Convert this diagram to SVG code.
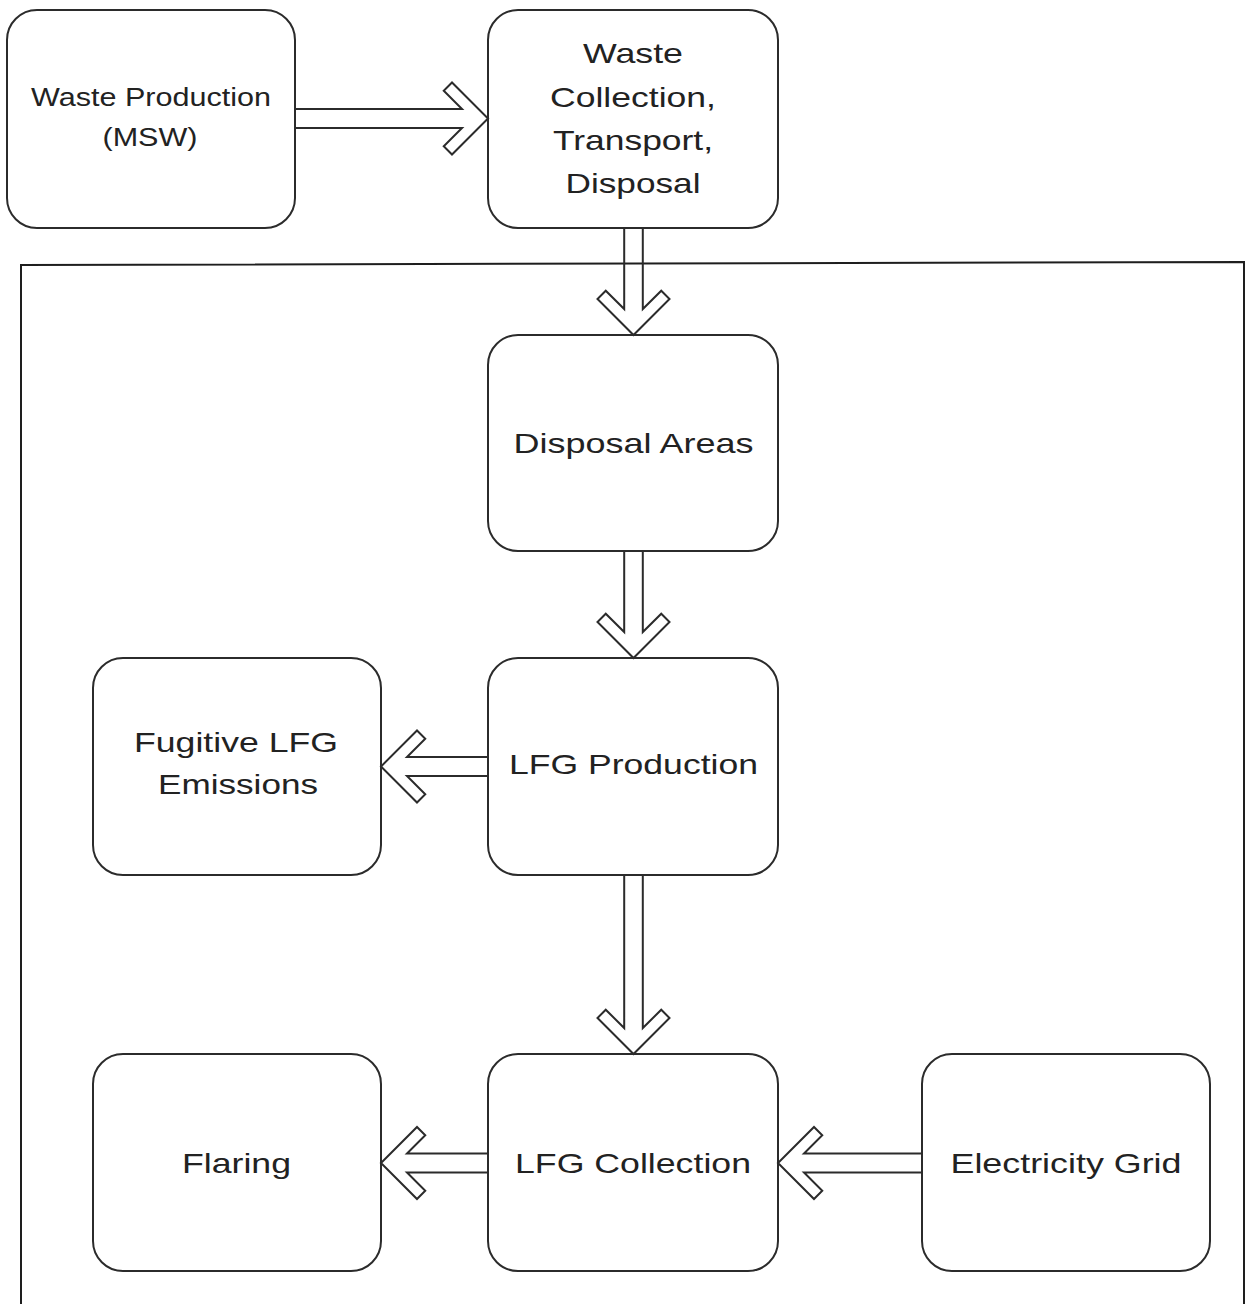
<svg xmlns="http://www.w3.org/2000/svg" width="1245" height="1304" viewBox="0 0 1245 1304">
<style>
.box{fill:#fff;stroke:#2b2b2b;stroke-width:2}
.frame{fill:none;stroke:#1e1e1e;stroke-width:2}
.arr{fill:none;stroke:#2b2b2b;stroke-width:2;stroke-linejoin:miter}
text{font-family:"Liberation Sans",Arial,sans-serif;font-size:28px;fill:#222;text-anchor:middle}
.sm{font-size:26px}
</style>
<rect width="1245" height="1304" fill="#fff"/>
<path class="frame" d="M21,1304 V265 L1244,262 V1304"/>
<g id="n_waste_production">
<rect class="box" x="7" y="10" width="288" height="218" rx="30"/>
<text class="sm" x="151" y="106" textLength="240" lengthAdjust="spacingAndGlyphs">Waste Production</text>
<text class="sm" x="150" y="146" textLength="95" lengthAdjust="spacingAndGlyphs">(MSW)</text>
</g>
<g id="n_waste_collection">
<rect class="box" x="488" y="10" width="290" height="218" rx="30"/>
<text x="633" y="63" textLength="100" lengthAdjust="spacingAndGlyphs">Waste</text>
<text x="633" y="107" textLength="166" lengthAdjust="spacingAndGlyphs">Collection,</text>
<text x="633" y="150" textLength="160" lengthAdjust="spacingAndGlyphs">Transport,</text>
<text x="633" y="193" textLength="135" lengthAdjust="spacingAndGlyphs">Disposal</text>
</g>
<g id="n_disposal_areas">
<rect class="box" x="488" y="335" width="290" height="216" rx="30"/>
<text x="633.5" y="453" textLength="240" lengthAdjust="spacingAndGlyphs">Disposal Areas</text>
</g>
<g id="n_lfg_production">
<rect class="box" x="488" y="658" width="290" height="217" rx="30"/>
<text x="633.5" y="774" textLength="249" lengthAdjust="spacingAndGlyphs">LFG Production</text>
</g>
<g id="n_fugitive">
<rect class="box" x="93" y="658" width="288" height="217" rx="30"/>
<text x="236" y="752" textLength="204" lengthAdjust="spacingAndGlyphs">Fugitive LFG</text>
<text x="238" y="794" textLength="160" lengthAdjust="spacingAndGlyphs">Emissions</text>
</g>
<g id="n_lfg_collection">
<rect class="box" x="488" y="1054" width="290" height="217" rx="30"/>
<text x="633" y="1173" textLength="236" lengthAdjust="spacingAndGlyphs">LFG Collection</text>
</g>
<g id="n_flaring">
<rect class="box" x="93" y="1054" width="288" height="217" rx="30"/>
<text x="236.5" y="1173" textLength="109" lengthAdjust="spacingAndGlyphs">Flaring</text>
</g>
<g id="n_electricity_grid">
<rect class="box" x="922" y="1054" width="288" height="217" rx="30"/>
<text x="1066" y="1173" textLength="231" lengthAdjust="spacingAndGlyphs">Electricity Grid</text>
</g>
<g id="connectors">
<path class="arr" transform="translate(488,118.5)" d="M-193,-9.5 H-26 L-44.25,-27.75 L-36,-36 L0,0 L-36,36 L-44.25,27.75 L-26,9.5 H-193"/>
<path class="arr" transform="translate(633.5,335) rotate(90)" d="M-108,-9.3 H-26 L-44.25,-27.75 L-36,-36 L0,0 L-36,36 L-44.25,27.75 L-26,9.3 H-108"/>
<path class="arr" transform="translate(633.5,658) rotate(90)" d="M-107,-9.3 H-26 L-44.25,-27.75 L-36,-36 L0,0 L-36,36 L-44.25,27.75 L-26,9.3 H-107"/>
<path class="arr" transform="translate(381,766.5) rotate(180)" d="M-107,-9.5 H-26 L-44.25,-27.75 L-36,-36 L0,0 L-36,36 L-44.25,27.75 L-26,9.5 H-107"/>
<path class="arr" transform="translate(633.5,1054) rotate(90)" d="M-179,-9.3 H-26 L-44.25,-27.75 L-36,-36 L0,0 L-36,36 L-44.25,27.75 L-26,9.3 H-179"/>
<path class="arr" transform="translate(381,1163) rotate(180)" d="M-107,-9.5 H-26 L-44.25,-27.75 L-36,-36 L0,0 L-36,36 L-44.25,27.75 L-26,9.5 H-107"/>
<path class="arr" transform="translate(778,1163) rotate(180)" d="M-144,-9.5 H-26 L-44.25,-27.75 L-36,-36 L0,0 L-36,36 L-44.25,27.75 L-26,9.5 H-144"/>
</g>
</svg>
